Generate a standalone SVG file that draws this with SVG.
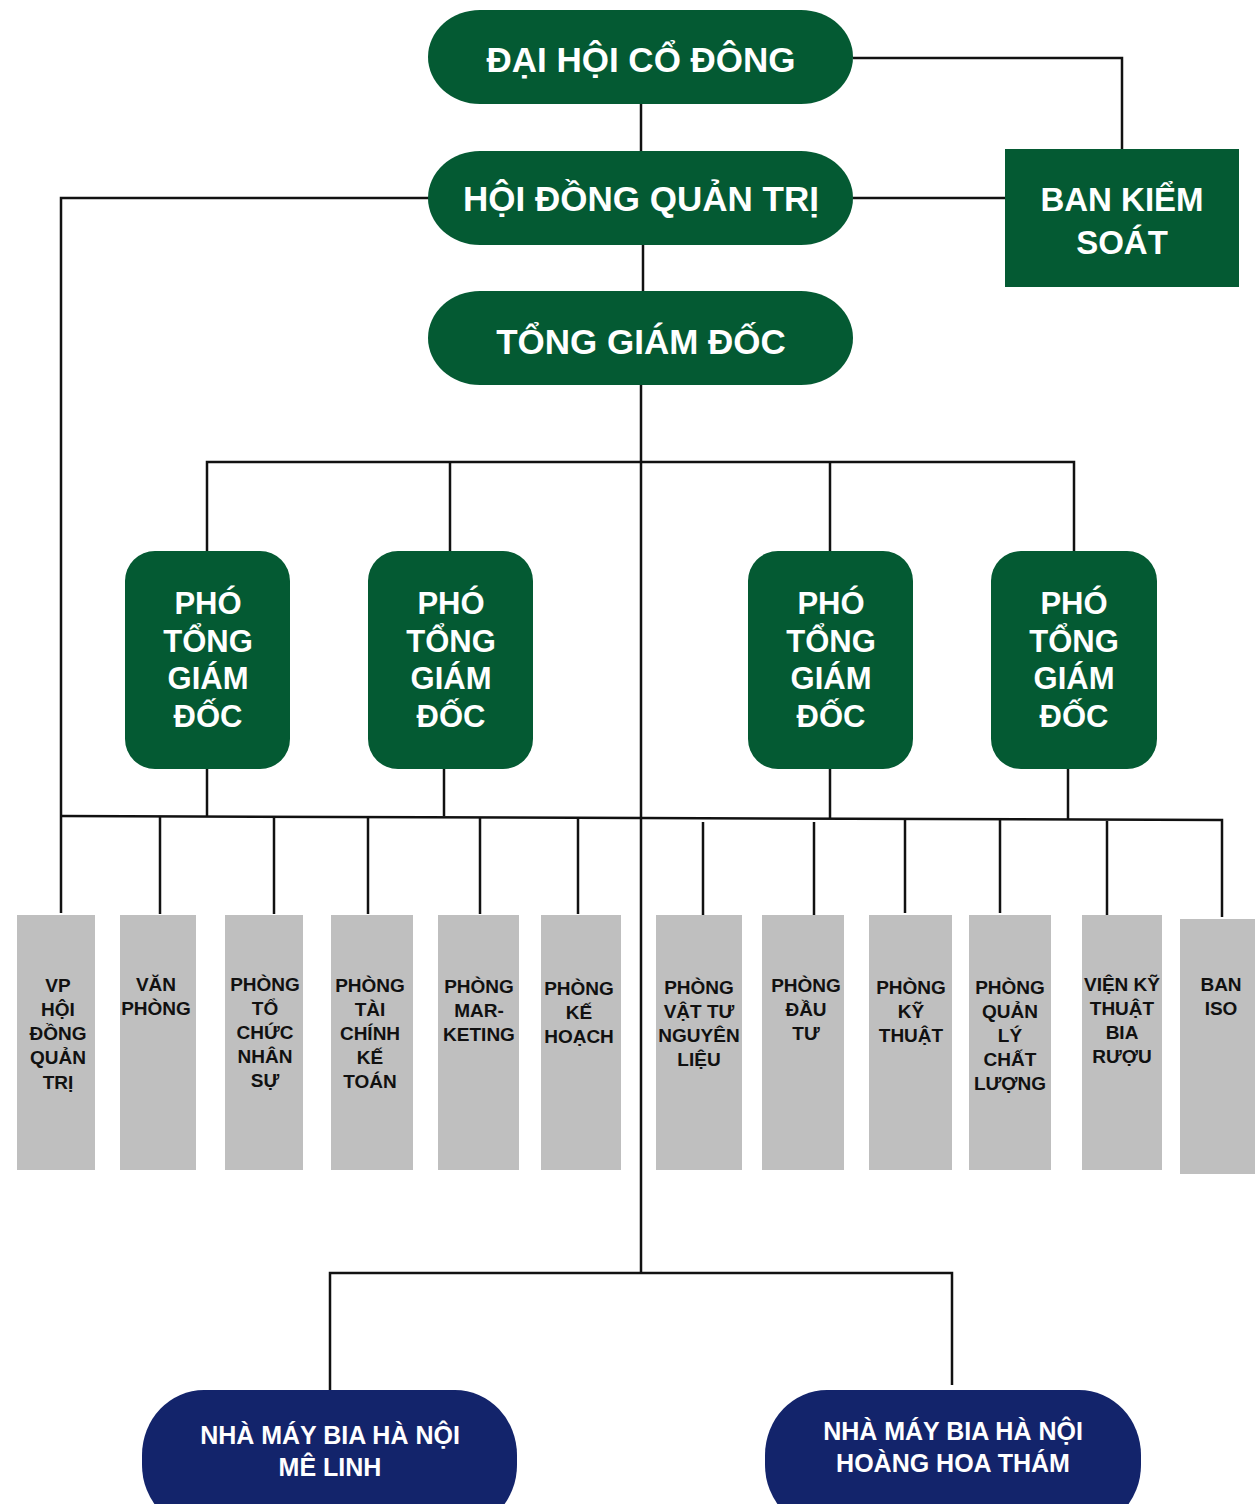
<svg xmlns="http://www.w3.org/2000/svg" width="1255" height="1504" viewBox="0 0 1255 1504">
<style>
.g{fill:#045a33}
.n{fill:#13246b}
.b{fill:#bfbfbf}
.tw{fill:#fff;font-family:"Liberation Sans",Arial,sans-serif;font-weight:bold;text-anchor:middle}
.tb{fill:#111;font-family:"Liberation Sans",Arial,sans-serif;font-weight:bold;text-anchor:middle;font-size:19px}
.c line,.c path{stroke:#111;stroke-width:2.5;fill:none}
</style>
<rect width="1255" height="1504" fill="#fff"/>
<g class="c" id="connectors">
<path d="M853 58H1122V149"/>
<line x1="853" y1="198" x2="1005" y2="198"/>
<path d="M429 198H61V913"/>
<line x1="641" y1="104" x2="641" y2="151"/>
<line x1="643" y1="245" x2="643" y2="291"/>
<line x1="641" y1="385" x2="641" y2="1272"/>
<path d="M207 551V462H1074V551"/>
<line x1="450" y1="462" x2="450" y2="551"/>
<line x1="830" y1="462" x2="830" y2="551"/>
<line x1="207" y1="769" x2="207" y2="816"/>
<line x1="444" y1="769" x2="444" y2="816"/>
<line x1="830" y1="769" x2="830" y2="818"/>
<line x1="1068" y1="769" x2="1068" y2="820"/>
<path d="M61 816L641 818L1222 820V917"/>
<line x1="160" y1="816" x2="160" y2="914"/>
<line x1="274" y1="816" x2="274" y2="914"/>
<line x1="368" y1="817" x2="368" y2="914"/>
<line x1="480" y1="817" x2="480" y2="914"/>
<line x1="578" y1="818" x2="578" y2="914"/>
<line x1="703" y1="822" x2="703" y2="915"/>
<line x1="814" y1="822" x2="814" y2="915"/>
<line x1="905" y1="819" x2="905" y2="913"/>
<line x1="1000" y1="819" x2="1000" y2="913"/>
<line x1="1107" y1="821" x2="1107" y2="916"/>
<path d="M330 1390V1273H952V1385"/>
</g>
<g id="dai-hoi-co-dong"><rect class="g" x="428" y="10" width="425" height="94" rx="52" ry="47"/><text class="tw" x="641" y="72" font-size="35">ĐẠI HỘI CỔ ĐÔNG</text></g>
<g id="hoi-dong-quan-tri"><rect class="g" x="428" y="151" width="425" height="94" rx="52" ry="47"/><text class="tw" x="641" y="211" font-size="35">HỘI ĐỒNG QUẢN TRỊ</text></g>
<g id="tong-giam-doc"><rect class="g" x="428" y="291" width="425" height="94" rx="52" ry="47"/><text class="tw" x="641" y="354" font-size="35">TỔNG GIÁM ĐỐC</text></g>
<g id="ban-kiem-soat"><rect class="g" x="1005" y="149" width="234" height="138"/><text class="tw" x="1122" y="211" font-size="33">BAN KIỂM</text><text class="tw" x="1122" y="254" font-size="33">SOÁT</text></g>
<g id="pho-tgd-1"><rect class="g" x="125" y="551" width="165" height="218" rx="30"/><text class="tw" font-size="31" x="208" y="614">PHÓ<tspan x="208" dy="37.5">TỔNG</tspan><tspan x="208" dy="37.5">GIÁM</tspan><tspan x="208" dy="37.5">ĐỐC</tspan></text></g>
<g id="pho-tgd-2"><rect class="g" x="368" y="551" width="165" height="218" rx="30"/><text class="tw" font-size="31" x="451" y="614">PHÓ<tspan x="451" dy="37.5">TỔNG</tspan><tspan x="451" dy="37.5">GIÁM</tspan><tspan x="451" dy="37.5">ĐỐC</tspan></text></g>
<g id="pho-tgd-3"><rect class="g" x="748" y="551" width="165" height="218" rx="30"/><text class="tw" font-size="31" x="831" y="614">PHÓ<tspan x="831" dy="37.5">TỔNG</tspan><tspan x="831" dy="37.5">GIÁM</tspan><tspan x="831" dy="37.5">ĐỐC</tspan></text></g>
<g id="pho-tgd-4"><rect class="g" x="991" y="551" width="166" height="218" rx="30"/><text class="tw" font-size="31" x="1074" y="614">PHÓ<tspan x="1074" dy="37.5">TỔNG</tspan><tspan x="1074" dy="37.5">GIÁM</tspan><tspan x="1074" dy="37.5">ĐỐC</tspan></text></g>
<g id="vp-hdqt"><rect class="b" x="17" y="915" width="78" height="255"/><text class="tb" x="58" y="992">VP<tspan x="58" dy="24">HỘI</tspan><tspan x="58" dy="24">ĐỒNG</tspan><tspan x="58" dy="24">QUẢN</tspan><tspan x="58" dy="25">TRỊ</tspan></text></g>
<g id="van-phong"><rect class="b" x="120" y="915" width="76" height="255"/><text class="tb" x="156" y="991">VĂN<tspan x="156" dy="24">PHÒNG</tspan></text></g>
<g id="phong-tcns"><rect class="b" x="225" y="915" width="78" height="255"/><text class="tb" x="265" y="991">PHÒNG<tspan x="265" dy="24">TỔ</tspan><tspan x="265" dy="24">CHỨC</tspan><tspan x="265" dy="24">NHÂN</tspan><tspan x="265" dy="24">SỰ</tspan></text></g>
<g id="phong-tckt"><rect class="b" x="331" y="915" width="82" height="255"/><text class="tb" x="370" y="992">PHÒNG<tspan x="370" dy="24">TÀI</tspan><tspan x="370" dy="24">CHÍNH</tspan><tspan x="370" dy="24">KẾ</tspan><tspan x="370" dy="24">TOÁN</tspan></text></g>
<g id="phong-marketing"><rect class="b" x="438" y="915" width="81" height="255"/><text class="tb" x="479" y="993">PHÒNG<tspan x="479" dy="24">MAR-</tspan><tspan x="479" dy="24">KETING</tspan></text></g>
<g id="phong-ke-hoach"><rect class="b" x="541" y="915" width="80" height="255"/><text class="tb" x="579" y="995">PHÒNG<tspan x="579" dy="24">KẾ</tspan><tspan x="579" dy="24">HOẠCH</tspan></text></g>
<g id="phong-vat-tu"><rect class="b" x="656" y="915" width="86" height="255"/><text class="tb" x="699" y="994">PHÒNG<tspan x="699" dy="24">VẬT TƯ</tspan><tspan x="699" dy="24">NGUYÊN</tspan><tspan x="699" dy="24">LIỆU</tspan></text></g>
<g id="phong-dau-tu"><rect class="b" x="762" y="915" width="82" height="255"/><text class="tb" x="806" y="992">PHÒNG<tspan x="806" dy="24">ĐẦU</tspan><tspan x="806" dy="24">TƯ</tspan></text></g>
<g id="phong-ky-thuat"><rect class="b" x="869" y="915" width="83" height="255"/><text class="tb" x="911" y="994">PHÒNG<tspan x="911" dy="24">KỸ</tspan><tspan x="911" dy="24">THUẬT</tspan></text></g>
<g id="phong-qlcl"><rect class="b" x="969" y="915" width="82" height="255"/><text class="tb" x="1010" y="994">PHÒNG<tspan x="1010" dy="24">QUẢN</tspan><tspan x="1010" dy="24">LÝ</tspan><tspan x="1010" dy="24">CHẤT</tspan><tspan x="1010" dy="24">LƯỢNG</tspan></text></g>
<g id="vien-ky-thuat"><rect class="b" x="1082" y="915" width="80" height="255"/><text class="tb" x="1122" y="991">VIỆN KỸ<tspan x="1122" dy="24">THUẬT</tspan><tspan x="1122" dy="24">BIA</tspan><tspan x="1122" dy="24">RƯỢU</tspan></text></g>
<g id="ban-iso"><rect class="b" x="1180" y="919" width="75" height="255"/><text class="tb" x="1221" y="991">BAN<tspan x="1221" dy="24">ISO</tspan></text></g>
<g id="nm-me-linh"><rect class="n" x="142" y="1390" width="375" height="140" rx="62" ry="65"/><text class="tw" font-size="25" x="330" y="1444">NHÀ MÁY BIA HÀ NỘI<tspan x="330" dy="32">MÊ LINH</tspan></text></g>
<g id="nm-hoang-hoa-tham"><rect class="n" x="765" y="1390" width="376" height="140" rx="62" ry="65"/><text class="tw" font-size="25" x="953" y="1440">NHÀ MÁY BIA HÀ NỘI<tspan x="953" dy="32">HOÀNG HOA THÁM</tspan></text></g>
</svg>
